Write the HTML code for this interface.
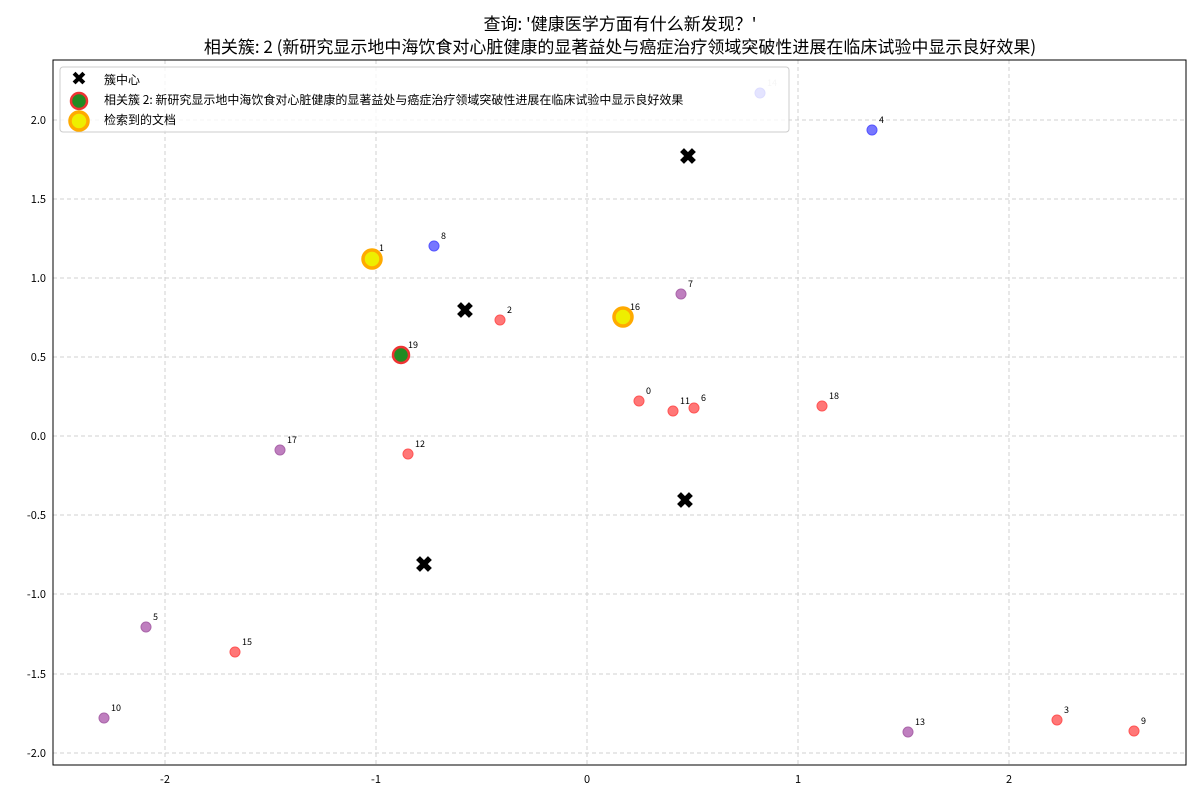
<!DOCTYPE html><html><head><meta charset="utf-8"><style>body{margin:0;background:#fff}svg{display:block}text{font-family:"Noto Sans CJK SC","Liberation Sans",sans-serif}</style></head><body>
<svg width="1200" height="800" xmlns="http://www.w3.org/2000/svg">
<text x="620" y="30" font-size="17" text-anchor="middle">查询: '健康医学方面有什么新发现？'</text>
<text x="620" y="53" font-size="17" text-anchor="middle">相关簇: 2 (新研究显示地中海饮食对心脏健康的显著益处与癌症治疗领域突破性进展在临床试验中显示良好效果)</text>
<g stroke="#d0d0d0" stroke-dasharray="4,3" stroke-width="1">
<line x1="165" y1="60" x2="165" y2="765"/><line x1="376" y1="60" x2="376" y2="765"/><line x1="587" y1="60" x2="587" y2="765"/><line x1="798" y1="60" x2="798" y2="765"/><line x1="1009" y1="60" x2="1009" y2="765"/>
<line x1="53" y1="120" x2="1186" y2="120"/><line x1="53" y1="199" x2="1186" y2="199"/><line x1="53" y1="278" x2="1186" y2="278"/><line x1="53" y1="357" x2="1186" y2="357"/><line x1="53" y1="436" x2="1186" y2="436"/><line x1="53" y1="515" x2="1186" y2="515"/><line x1="53" y1="594" x2="1186" y2="594"/><line x1="53" y1="674" x2="1186" y2="674"/><line x1="53" y1="753" x2="1186" y2="753"/>
</g>
<rect x="53" y="60" width="1133" height="705" fill="none" stroke="#000"/>
<g font-size="11" text-anchor="middle">
<text x="165" y="783">-2</text><text x="376" y="783">-1</text><text x="587" y="783">0</text><text x="798" y="783">1</text><text x="1009" y="783">2</text></g>
<g font-size="11" text-anchor="end">
<text x="46" y="124">2.0</text><text x="46" y="203">1.5</text><text x="46" y="282">1.0</text><text x="46" y="361">0.5</text><text x="46" y="440">0.0</text><text x="46" y="519">-0.5</text><text x="46" y="598">-1.0</text><text x="46" y="678">-1.5</text><text x="46" y="757">-2.0</text></g>
<g>
<circle cx="639" cy="401" r="5" fill="#f77" stroke="#f55"/>
<circle cx="500" cy="320" r="5" fill="#f77" stroke="#f55"/>
<circle cx="1057" cy="720" r="5" fill="#f77" stroke="#f55"/>
<circle cx="872" cy="130" r="5" fill="#77f" stroke="#55f"/>
<circle cx="146" cy="627" r="5" fill="#bf7fbf" stroke="#a6a"/>
<circle cx="694" cy="408" r="5" fill="#f77" stroke="#f55"/>
<circle cx="681" cy="294" r="5" fill="#bf7fbf" stroke="#a6a"/>
<circle cx="434" cy="246" r="5" fill="#77f" stroke="#55f"/>
<circle cx="1134" cy="731" r="5" fill="#f77" stroke="#f55"/>
<circle cx="104" cy="718" r="5" fill="#bf7fbf" stroke="#a6a"/>
<circle cx="673" cy="411" r="5" fill="#f77" stroke="#f55"/>
<circle cx="408" cy="454" r="5" fill="#f77" stroke="#f55"/>
<circle cx="908" cy="732" r="5" fill="#bf7fbf" stroke="#a6a"/>
<circle cx="760" cy="93" r="5" fill="#77f" stroke="#55f"/>
<circle cx="235" cy="652" r="5" fill="#f77" stroke="#f55"/>
<circle cx="280" cy="450" r="5" fill="#bf7fbf" stroke="#a6a"/>
<circle cx="822" cy="406" r="5" fill="#f77" stroke="#f55"/>
<circle cx="401" cy="355" r="8" fill="#228b22" stroke="#e33" stroke-width="2.5"/>
<circle cx="372" cy="259" r="9" fill="#ee0" stroke="#fa0" stroke-width="3.5"/>
<circle cx="623" cy="317" r="9" fill="#ee0" stroke="#fa0" stroke-width="3.5"/>
</g>
<g font-size="9">
<text x="646" y="394">0</text><text x="379" y="251">1</text><text x="507" y="313">2</text><text x="1064" y="713">3</text><text x="879" y="123">4</text><text x="153" y="620">5</text><text x="701" y="401">6</text><text x="688" y="287">7</text><text x="441" y="239">8</text><text x="1141" y="724">9</text><text x="111" y="711">10</text><text x="680" y="404">11</text><text x="415" y="447">12</text><text x="915" y="725">13</text><text x="767" y="86" fill="#ccc">14</text><text x="242" y="645">15</text><text x="630" y="310">16</text><text x="287" y="443">17</text><text x="829" y="399">18</text><text x="408" y="348">19</text></g>
<g fill="#000" font-size="22" font-weight="bold" text-anchor="middle" style="font-family:'DejaVu Sans',sans-serif">
<text x="688" y="164">✖</text><text x="465" y="318">✖</text><text x="685" y="508">✖</text><text x="424" y="572">✖</text></g>
<rect x="60" y="67" width="729" height="65" rx="3" fill="#fff" fill-opacity="0.8" stroke="#ccc"/>
<text x="79" y="85" font-size="19" font-weight="bold" text-anchor="middle" style="font-family:'DejaVu Sans',sans-serif">✖</text>
<circle cx="79" cy="101" r="8" fill="#228b22" stroke="#e33" stroke-width="2.5"/>
<circle cx="79" cy="121" r="9" fill="#ee0" stroke="#fa0" stroke-width="3.5"/>
<g font-size="12"><text x="104" y="84">簇中心</text><text x="104" y="104">相关簇 2: 新研究显示地中海饮食对心脏健康的显著益处与癌症治疗领域突破性进展在临床试验中显示良好效果</text><text x="104" y="124">检索到的文档</text></g>
</svg></body></html>
